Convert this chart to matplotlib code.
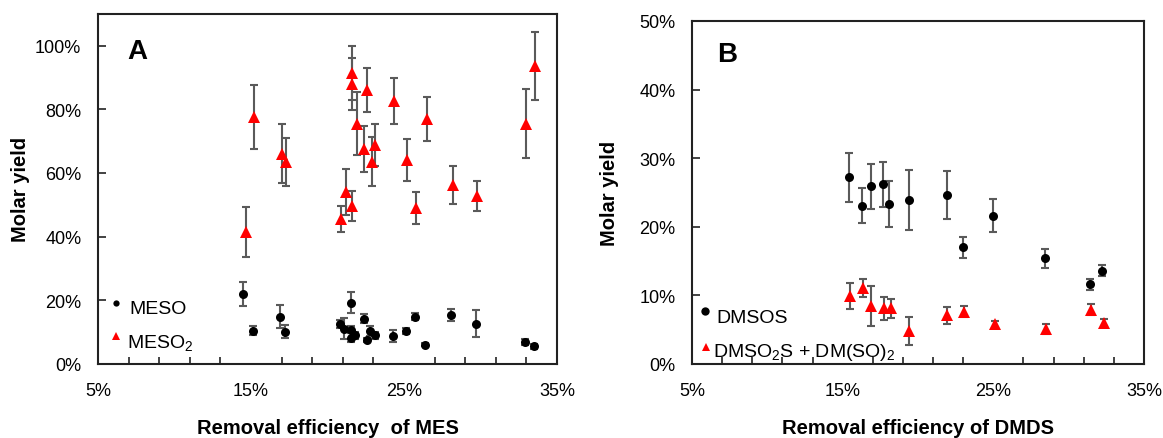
import matplotlib.pyplot as plt

plt.rcParams['font.family'] = ['Liberation Sans', 'DejaVu Sans']
plt.rcParams['mathtext.fontset'] = 'custom'
plt.rcParams['mathtext.rm'] = 'Liberation Sans'
plt.rcParams['mathtext.it'] = 'Liberation Sans'

# ---- panel A data (removal efficiency of MES, %) ----
meso_x = [14.5, 15.1, 16.9, 17.2, 20.8, 21.1, 21.55, 21.55, 21.55, 21.8, 22.4,
          22.6, 22.8, 23.1, 24.3, 25.15, 25.7, 26.4, 28.1, 29.7, 32.9, 33.5]
meso_y = [22.0, 10.5, 14.8, 10.2, 12.6, 11.0, 19.2, 10.8, 8.2, 9.0, 14.2,
          7.6, 10.4, 9.0, 8.8, 10.4, 14.8, 6.0, 15.3, 12.6, 7.0, 5.5]
meso_err = [3.8, 1.3, 3.6, 2.0, 1.3, 3.3, 3.3, 1.0, 1.4, 1.0, 1.4,
            0.6, 1.5, 1.0, 2.0, 1.0, 1.1, 0.5, 1.9, 4.2, 1.0, 0.7]

meso2_x = [14.7, 15.2, 17.05, 17.3, 20.9, 21.2, 21.6, 21.6, 21.6, 21.9, 22.4,
           22.6, 22.9, 23.1, 24.35, 25.2, 25.8, 26.5, 28.2, 29.8, 33.0, 33.55]
meso2_y = [41.5, 77.5, 66.0, 63.5, 45.5, 54.0, 91.5, 88.0, 49.5, 75.5, 67.5,
           86.0, 63.5, 68.8, 82.5, 64.0, 49.0, 77.0, 56.3, 52.8, 75.5, 93.5]
meso2_err = [7.8, 10.0, 9.2, 7.5, 4.2, 7.2, 8.5, 8.2, 4.7, 9.8, 7.3,
             7.0, 7.7, 6.5, 7.3, 6.7, 5.0, 6.9, 6.0, 4.7, 10.8, 10.7]

# ---- panel B data (removal efficiency of DMDS, %) ----
dmsos_x = [15.4, 16.25, 16.85, 17.7, 18.1, 19.4, 21.95, 23.0, 25.0, 28.45, 31.4, 32.2]
dmsos_y = [27.2, 23.1, 25.9, 26.2, 23.3, 23.9, 24.6, 17.0, 21.6, 15.4, 11.6, 13.6]
dmsos_err = [3.6, 2.6, 3.3, 3.3, 3.3, 4.4, 3.5, 1.5, 2.4, 1.4, 0.8, 0.8]

dmso2s_x = [15.5, 16.35, 16.9, 17.75, 18.2, 19.4, 21.95, 23.05, 25.1, 28.5, 31.5, 32.35]
dmso2s_y = [9.9, 11.1, 8.4, 8.1, 8.1, 4.8, 7.1, 7.6, 5.8, 5.1, 7.9, 6.0]
dmso2s_err = [1.9, 1.35, 2.9, 1.65, 1.4, 2.0, 1.2, 0.8, 0.5, 0.8, 0.8, 0.5]

xticks = [5, 15, 25, 35]
yticks_a = [0, 20, 40, 60, 80, 100]
yticks_b = [0, 10, 20, 30, 40, 50]

ebar_color = '#5a5a5a'
red = '#ff0000'


def pct(vals):
    return [v / 100 for v in vals]


def panel(ax, x1, y1, e1, x2, y2, e2, ymax, yticks, letter, xlabel, ylab_x, xlab_y):
    ax.errorbar(pct(x2), pct(y2), yerr=pct(e2), fmt='none', ecolor=ebar_color,
                elinewidth=1.5, capsize=3, capthick=1.5, zorder=2)
    ax.errorbar(pct(x1), pct(y1), yerr=pct(e1), fmt='none', ecolor=ebar_color,
                elinewidth=1.5, capsize=3, capthick=1.5, zorder=2)
    ax.plot(pct(x2), pct(y2), '^', color=red, ms=8, mew=0, zorder=3)
    ax.plot(pct(x1), pct(y1), 'o', color='black', ms=6.5, mew=0, zorder=3)

    ax.set_xlim(0.05, 0.35)
    ax.set_ylim(0, ymax)
    ax.set_xticks(pct(xticks))
    ax.set_xticklabels(['%d%%' % v for v in xticks])
    ax.set_xticks([0.05 + 0.02 * i for i in range(16)], minor=True)
    ax.set_yticks(pct(yticks))
    ax.set_yticklabels(['%d%%' % v for v in yticks])
    ax.tick_params(axis='both', which='both', direction='in', labelsize=13,
                   color='#222222', width=1.2)
    ax.tick_params(axis='x', which='major', length=0, pad=13)
    ax.tick_params(axis='x', which='minor', length=5)
    ax.tick_params(axis='y', which='major', length=6, pad=12)
    for s in ax.spines.values():
        s.set_linewidth(1.5)
        s.set_color('#222222')

    ax.set_ylabel('Molar yield', fontsize=14.5, fontweight='bold')
    ax.yaxis.set_label_coords(ylab_x, 0.5)
    ax.set_xlabel(xlabel, fontsize=14.5, fontweight='bold')
    ax.xaxis.set_label_coords(0.5, xlab_y)
    ax.text(letter[1], letter[2], letter[0], transform=ax.transAxes,
            fontsize=20, fontweight='bold', ha='center', va='center')


def legend_entry(ax, mx, my, marker, color, ms, tx, ty, label):
    ax.plot([mx], [my], marker, color=color, ms=ms, mew=0,
            transform=ax.transAxes, clip_on=False)
    ax.text(tx, ty, label, transform=ax.transAxes, fontsize=14,
            ha='left', va='baseline')


fig = plt.figure(figsize=(11.63, 4.39), dpi=100)
axA = fig.add_axes([0.0843, 0.1686, 0.3946, 0.798])
axB = fig.add_axes([0.595, 0.1686, 0.3887, 0.7814])

panel(axA, meso_x, meso_y, meso_err, meso2_x, meso2_y, meso2_err,
      1.1, yticks_a, ('A', 0.085, 0.894), 'Removal efficiency  of MES', -0.148, -0.153)
panel(axB, dmsos_x, dmsos_y, dmsos_err, dmso2s_x, dmso2s_y, dmso2s_err,
      0.5, yticks_b, ('B', 0.077, 0.904), 'Removal efficiency of DMDS', -0.161, -0.158)

legend_entry(axA, 0.039, 0.174, 'o', 'black', 4.5, 0.068, 0.1455, 'MESO')
legend_entry(axA, 0.039, 0.079, '^', red, 6, 0.063, 0.0476, r'MESO$_2$')
legend_entry(axB, 0.029, 0.155, 'o', 'black', 6, 0.0546, 0.123, 'DMSOS')
legend_entry(axB, 0.030, 0.049, '^', red, 6, 0.047, 0.024, r'DMSO$_2$S + DM(SO)$_2$')

fig.savefig('out.png', dpi=100)
